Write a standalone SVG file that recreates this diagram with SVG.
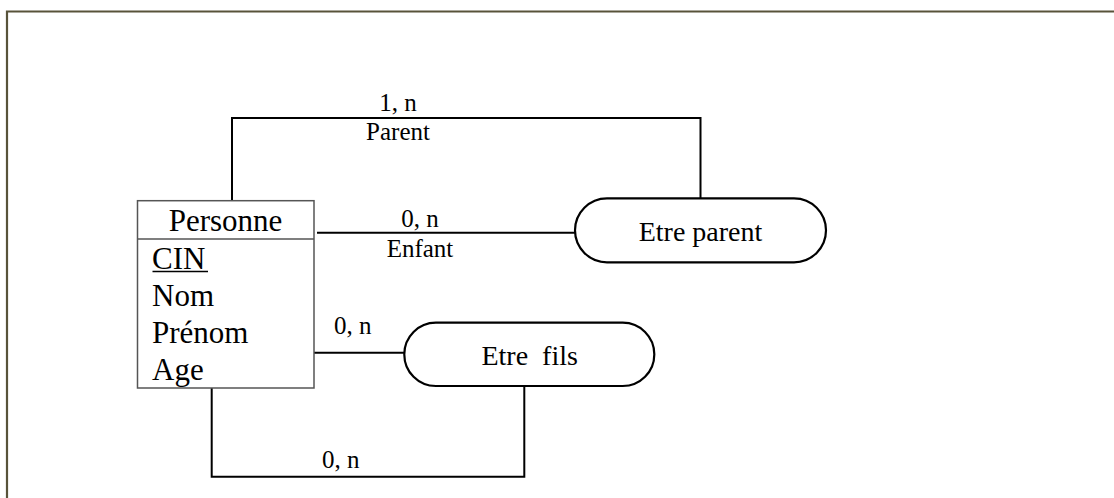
<svg xmlns="http://www.w3.org/2000/svg" width="1114" height="498" viewBox="0 0 1114 498">
<style>
text{font-family:"Liberation Serif","Times New Roman",serif;fill:#000}
.ent{font-size:31px}
.rel{font-size:28px}
.lbl{font-size:25px}
.conn{fill:none;stroke:#000;stroke-width:2}
.box{fill:#fff;stroke:#555;stroke-width:1.5}
.assoc{fill:#fff;stroke:#000;stroke-width:2.2}
</style>
<rect width="1114" height="498" fill="#fff"/>
<g id="frame">
<polyline points="7,498 7,11.5 1114,11.5" fill="none" stroke="#58533a" stroke-width="2.2"/>
</g>
<g id="connectors">
<polyline class="conn" points="232,200 232,118 700.5,118 700.5,198"/>
<line class="conn" x1="317" y1="232.7" x2="575" y2="232.7"/>
<line class="conn" x1="314" y1="352.7" x2="404" y2="352.7"/>
<polyline class="conn" points="211.7,388 211.7,476.7 524.3,476.7 524.3,386"/>
<text class="lbl" x="398" y="110.7" text-anchor="middle">1, n</text>
<text class="lbl" x="398" y="140" text-anchor="middle">Parent</text>
<text class="lbl" x="420" y="226.7" text-anchor="middle">0, n</text>
<text class="lbl" x="420" y="256.7" text-anchor="middle">Enfant</text>
<text class="lbl" x="352.7" y="334.3" text-anchor="middle">0, n</text>
<text class="lbl" x="340.7" y="468.3" text-anchor="middle">0, n</text>
</g>
<g id="personne">
<rect class="box" x="137.5" y="200.7" width="176.5" height="187.3"/>
<line x1="137.5" y1="239" x2="314" y2="239" stroke="#555" stroke-width="1.5"/>
<text class="ent" x="225.5" y="230.7" text-anchor="middle">Personne</text>
<text class="ent" x="152" y="269.3">CIN</text>
<line x1="152.5" y1="271.5" x2="208" y2="271.5" stroke="#000" stroke-width="1.6"/>
<text class="ent" x="152" y="306">Nom</text>
<text class="ent" x="152" y="342.7">Prénom</text>
<text class="ent" x="152" y="379.5">Age</text>
</g>
<g id="etre-parent">
<rect class="assoc" x="575" y="198.3" width="251" height="64" rx="32" ry="32"/>
<text class="rel" x="700.5" y="241" text-anchor="middle">Etre parent</text>
</g>
<g id="etre-fils">
<rect class="assoc" x="404.3" y="322.7" width="250" height="63.3" rx="31.6" ry="31.6"/>
<text class="rel" x="529.7" y="365" text-anchor="middle" xml:space="preserve">Etre  fils</text>
</g>
</svg>
